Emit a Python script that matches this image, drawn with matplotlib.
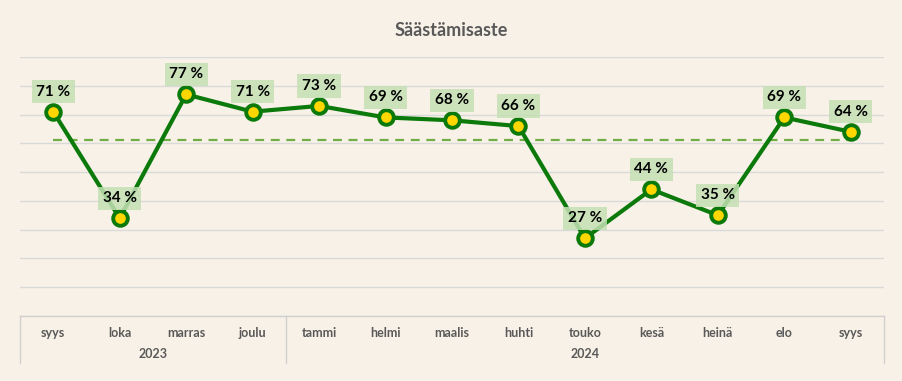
import matplotlib
matplotlib.use("Agg")
import matplotlib.pyplot as plt
from matplotlib.lines import Line2D

months = ["syys", "loka", "marras", "joulu", "tammi", "helmi", "maalis",
          "huhti", "touko", "kesä", "heinä", "elo", "syys"]
values = [71, 34, 77, 71, 73, 69, 68, 66, 27, 44, 35, 69, 64]
average = 61
years = ["2023", "2024"]
year_counts = [4, 9]
title = "Säästämisaste"

W, H = 903, 381
BG = "#F8F1E7"
GRAY = "#595959"
plt.rcParams['font.family'] = ['Lato', 'DejaVu Sans']

fig = plt.figure(figsize=(W / 100, H / 100), dpi=100, facecolor=BG)
left, right, top, bottom = 20, 884, 57, 316
ax = fig.add_axes([left / W, (H - bottom) / H, (right - left) / W, (bottom - top) / H])
ax.set_facecolor(BG)

n = len(values)
x = list(range(n))
ax.set_xlim(-0.5, n - 0.5)
ax.set_ylim(0, 90)
ax.set_yticks(range(0, 91, 10))
ax.yaxis.grid(True, color="#D9D9D9", linewidth=1)
ax.set_axisbelow(True)
ax.tick_params(axis="y", left=False, labelleft=False)
for s in ["top", "left", "right"]:
    ax.spines[s].set_visible(False)
ax.spines["bottom"].set_color("#D0D0D0")
ax.spines["bottom"].set_linewidth(1)

ax.plot([0, n - 1], [average, average], color="#70AD47", linewidth=1.6,
        dashes=(4, 3), zorder=2)
ax.plot(x, values, color="#0B7A0B", linewidth=3, marker="o", markersize=10.5,
        markerfacecolor="#FFD700", markeredgecolor="#0B7A0B", markeredgewidth=2.8,
        zorder=3)

for xi, v in zip(x, values):
    ax.annotate(f"{v} %", (xi, v), xytext=(0, 20), textcoords="offset pixels",
                ha="center", va="center", fontsize=11, fontweight="bold", color="black",
                bbox=dict(boxstyle="square,pad=0.3", fc="#C5E0B4", ec="none", alpha=0.85),
                zorder=4)

ax.set_xticks(x)
ax.set_xticklabels(months, fontsize=9, fontweight="bold", color=GRAY)
ax.tick_params(axis="x", length=0, pad=8)

# category box lines
box_bottom = 363
def fx(px):
    return px / W
def fy(py):
    return (H - py) / H
seg = (right - left) / n
bounds = [0]
for c in year_counts:
    bounds.append(bounds[-1] + c)
for b in bounds:
    xp = left + b * seg
    fig.add_artist(Line2D([fx(xp), fx(xp)], [fy(bottom), fy(box_bottom)],
                          color="#D0D0D0", linewidth=1))
for i, yr in enumerate(years):
    xc = left + (bounds[i] + bounds[i + 1]) / 2 * seg
    fig.text(fx(xc), fy(354), yr, ha="center", va="center", fontsize=9,
             fontweight="bold", color=GRAY)

fig.text(0.5, fy(30), title, ha="center", va="center", fontsize=13,
         fontweight="bold", color=GRAY)

fig.savefig("out.png", dpi=100, facecolor=BG)
